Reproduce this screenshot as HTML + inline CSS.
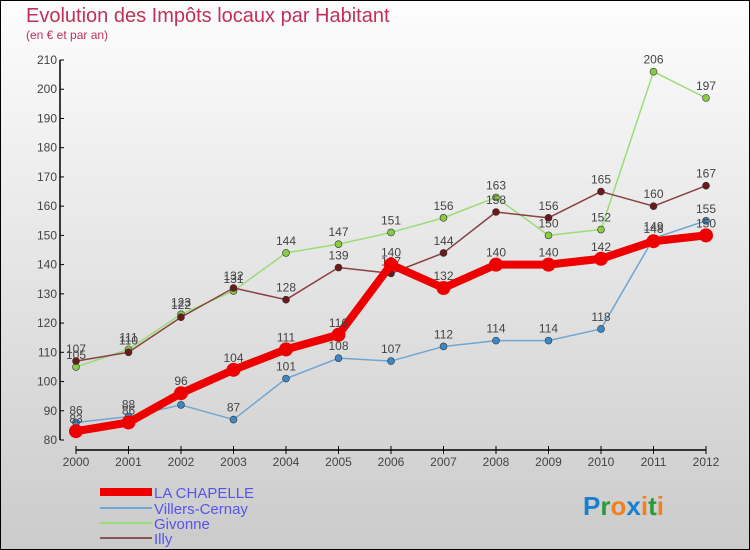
<!DOCTYPE html>
<html><head><meta charset="utf-8"><style>
html,body{margin:0;padding:0}
body{width:750px;height:550px;overflow:hidden;font-family:"Liberation Sans",sans-serif}
#wrap{position:absolute;left:0;top:0;width:748px;height:548px;border:1px solid #000;background:linear-gradient(#fdfdfd,#cbcbcb)}
</style></head><body>
<div id="wrap">
<svg id="chart" width="750" height="550" style="position:absolute;left:-1px;top:-1px">
<text x="26" y="22" font-size="20" fill="#c0305a">Evolution des Impôts locaux par Habitant</text>
<text x="26" y="39" font-size="12" fill="#c0305a">(en € et par an)</text>
<g id="axes"></g><g id="series"></g>
<g font-size="15" fill="#5555ee">
<rect x="100" y="488" width="52" height="8" fill="#ee0000"/>
<text x="154" y="498">LA CHAPELLE</text>
<rect x="100" y="507" width="52" height="2" fill="#6fa6d2"/>
<text x="154" y="514">Villers-Cernay</text>
<rect x="100" y="522" width="52" height="2" fill="#99dd77"/>
<text x="154" y="529">Givonne</text>
<rect x="100" y="537" width="52" height="2" fill="#8a5555"/>
<text x="154" y="544">Illy</text>
</g>
<g font-size="26" font-weight="bold">
<text x="583" y="515"><tspan fill="#1a7fd0">P</tspan><tspan fill="#2a9a3a">r</tspan><tspan fill="#f08020">o</tspan><tspan fill="#1a7fd0">x</tspan><tspan fill="#f08020">i</tspan><tspan fill="#2a9a3a">t</tspan><tspan fill="#f08020">i</tspan></text>
</g>
</svg>
</div>
<script>
const years=[2000,2001,2002,2003,2004,2005,2006,2007,2008,2009,2010,2011,2012];
const laChapelle=[83,86,96,104,111,116,140,132,140,140,142,148,150];
const villers=[86,88,92,87,101,108,107,112,114,114,118,149,155];
const givonne=[105,111,123,131,144,147,151,156,163,150,152,206,197];
const illy=[107,110,122,132,128,139,137,144,158,156,165,160,167];
const yTicks=[80,90,100,110,120,130,140,150,160,170,180,190,200,210];
const NS="http://www.w3.org/2000/svg";
function x(i){return 76+i*52.5;}
function y(v){return 440-(v-80)*(380/130);}
function mk(t,a,p){const e=document.createElementNS(NS,t);for(const k in a)e.setAttribute(k,a[k]);p.appendChild(e);return e;}
const ax=document.getElementById('axes');
const yl=mk('line',{x1:60,y1:y(210),x2:60,y2:y(80),stroke:'#000','stroke-width':1.5},ax);


yTicks.forEach(v=>{
 mk('line',{x1:60,y1:y(v),x2:64,y2:y(v),stroke:'#000'},ax);
 const t=mk('text',{x:57,y:y(v)+4,'font-size':12,fill:'#444','text-anchor':'end'},ax);
 t.textContent=v;
 
 
});
const xl=mk('line',{x1:x(0),y1:450,x2:x(12),y2:450,stroke:'#000','stroke-width':1.5},ax);


years.forEach((yr,i)=>{
 mk('line',{x1:x(i),y1:446,x2:x(i),y2:454,stroke:'#000'},ax);
 const t=mk('text',{x:x(i),y:466,'font-size':12,fill:'#444','text-anchor':'middle'},ax);
 t.textContent=yr;
 
 
});
const sg=document.getElementById('series');
function draw(vals,color,dot,w,r,name){
 const g=mk('g',{},sg);
 
 
 const pl=mk('polyline',{points:vals.map((v,i)=>x(i)+','+y(v)).join(' '),fill:'none',stroke:color,'stroke-width':w,'stroke-linejoin':'round'},g);
 
 
 vals.forEach((v,i)=>{
  const c=mk('circle',{cx:x(i),cy:y(v),r:r,fill:dot,stroke:'#333','stroke-width':r>4?0:0.6},g);
  
  
  const t=mk('text',{x:x(i),y:y(v)-8,'font-size':12,fill:'#444','text-anchor':'middle'},g);
  t.textContent=v;
  
  
 });
}
draw(givonne,'#99dd77','#88cc44',1.5,3.5,'givonne');
draw(illy,'#8a4040','#6a1a1a',1.5,3.5,'illy');
draw(villers,'#6fa6d2','#3a88c8',1.5,3.5,'villers-cernay');
draw(laChapelle,'#ee0000','#ee0000',8,7,'la-chapelle');
</script>
</body></html>
